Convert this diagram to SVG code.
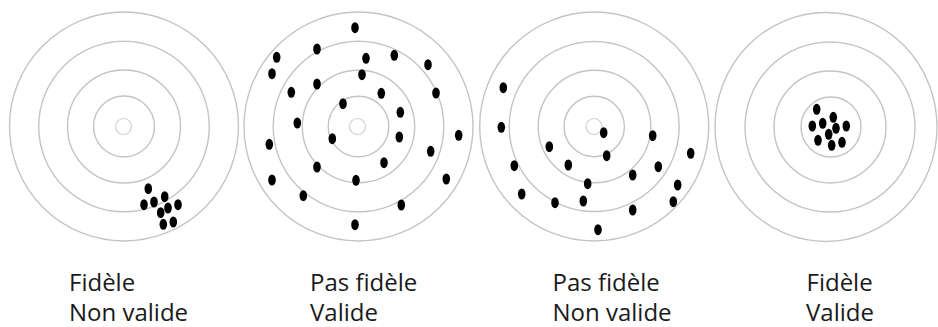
<svg xmlns="http://www.w3.org/2000/svg" width="938" height="327" viewBox="0 0 938 327">
<defs>
<style>
.ring{fill:none;stroke:#c4c4c4;stroke-width:1.4}
.bull{fill:none;stroke:#d0d0d0;stroke-width:1.2}
.dot{fill:#000}
.lbl{font-family:"Open Sans","Liberation Sans",sans-serif;font-size:24px;fill:#1a1a1a}
</style>
</defs>
<rect width="938" height="327" fill="#fff"/>
<g id="target1">
<circle class="ring" cx="124" cy="126.5" r="114.5"/>
<circle class="ring" cx="124" cy="126.5" r="85.3"/>
<circle class="ring" cx="124" cy="126.5" r="56.5"/>
<circle class="ring" cx="124" cy="126.5" r="30.5"/>
<circle class="bull" cx="123.5" cy="126.5" r="8"/>
<g class="dot">
<ellipse cx="148.3" cy="188.7" rx="3.8" ry="5.5"/>
<ellipse cx="164.7" cy="196.7" rx="3.8" ry="5.5"/>
<ellipse cx="144" cy="204.7" rx="3.8" ry="5.5"/>
<ellipse cx="154" cy="202" rx="3.8" ry="5.5"/>
<ellipse cx="178" cy="204.7" rx="3.8" ry="5.5"/>
<ellipse cx="168" cy="208" rx="3.8" ry="5.5"/>
<ellipse cx="160.7" cy="212.7" rx="3.8" ry="5.5"/>
<ellipse cx="163.3" cy="224.3" rx="3.8" ry="5.5"/>
<ellipse cx="173.3" cy="222" rx="3.8" ry="5.5"/>
</g>
<text class="lbl" x="69" y="290.5">Fidèle</text>
<text class="lbl" x="69" y="320.5">Non valide</text>
</g>
<g id="target2">
<circle class="ring" cx="358.5" cy="126.5" r="114.5"/>
<circle class="ring" cx="358.5" cy="126.5" r="85.3"/>
<circle class="ring" cx="358.5" cy="126.5" r="56.2"/>
<circle class="ring" cx="358.5" cy="126.5" r="30.3"/>
<circle class="bull" cx="357.5" cy="126.5" r="8"/>
<g class="dot">
<ellipse cx="355" cy="27.7" rx="3.8" ry="5.5"/>
<ellipse cx="317" cy="49" rx="3.8" ry="5.5"/>
<ellipse cx="276.7" cy="57.3" rx="3.8" ry="5.5"/>
<ellipse cx="366" cy="58.3" rx="3.8" ry="5.5"/>
<ellipse cx="394.3" cy="55.3" rx="3.8" ry="5.5"/>
<ellipse cx="428" cy="64.7" rx="3.8" ry="5.5"/>
<ellipse cx="272" cy="73.7" rx="3.8" ry="5.5"/>
<ellipse cx="362" cy="74.7" rx="3.8" ry="5.5"/>
<ellipse cx="317" cy="84" rx="3.8" ry="5.5"/>
<ellipse cx="291.3" cy="92.3" rx="3.8" ry="5.5"/>
<ellipse cx="381.3" cy="93.3" rx="3.8" ry="5.5"/>
<ellipse cx="436" cy="93" rx="3.8" ry="5.5"/>
<ellipse cx="343" cy="103.7" rx="3.8" ry="5.5"/>
<ellipse cx="400.3" cy="112.3" rx="3.8" ry="5.5"/>
<ellipse cx="297.3" cy="123" rx="3.8" ry="5.5"/>
<ellipse cx="458.7" cy="135.3" rx="3.8" ry="5.5"/>
<ellipse cx="332.3" cy="138.7" rx="3.8" ry="5.5"/>
<ellipse cx="399.3" cy="137" rx="3.8" ry="5.5"/>
<ellipse cx="269.3" cy="144.3" rx="3.8" ry="5.5"/>
<ellipse cx="430.7" cy="151.3" rx="3.8" ry="5.5"/>
<ellipse cx="384" cy="162.7" rx="3.8" ry="5.5"/>
<ellipse cx="317" cy="167" rx="3.8" ry="5.5"/>
<ellipse cx="272" cy="180" rx="3.8" ry="5.5"/>
<ellipse cx="356" cy="180.3" rx="3.8" ry="5.5"/>
<ellipse cx="446.3" cy="179" rx="3.8" ry="5.5"/>
<ellipse cx="303.3" cy="195.7" rx="3.8" ry="5.5"/>
<ellipse cx="401.3" cy="205" rx="3.8" ry="5.5"/>
<ellipse cx="355" cy="224.7" rx="3.8" ry="5.5"/>
</g>
<text class="lbl" x="310" y="290.5">Pas fidèle</text>
<text class="lbl" x="310" y="320.5">Valide</text>
</g>
<g id="target3">
<circle class="ring" cx="594.2" cy="126.5" r="114.5"/>
<circle class="ring" cx="594.2" cy="126.5" r="85"/>
<circle class="ring" cx="594.5" cy="126.5" r="56.3"/>
<circle class="ring" cx="594.2" cy="126.5" r="30.2"/>
<circle class="bull" cx="594" cy="126.5" r="8"/>
<g class="dot">
<ellipse cx="503.3" cy="87.7" rx="3.8" ry="5.5"/>
<ellipse cx="501.3" cy="127.3" rx="3.8" ry="5.5"/>
<ellipse cx="603.7" cy="132.7" rx="3.8" ry="5.5"/>
<ellipse cx="652.7" cy="135.7" rx="3.8" ry="5.5"/>
<ellipse cx="549.3" cy="146.7" rx="3.8" ry="5.5"/>
<ellipse cx="606.7" cy="155.7" rx="3.8" ry="5.5"/>
<ellipse cx="690.7" cy="153.3" rx="3.8" ry="5.5"/>
<ellipse cx="514.3" cy="165.7" rx="3.8" ry="5.5"/>
<ellipse cx="568.3" cy="165" rx="3.8" ry="5.5"/>
<ellipse cx="658.3" cy="166.7" rx="3.8" ry="5.5"/>
<ellipse cx="632.7" cy="175" rx="3.8" ry="5.5"/>
<ellipse cx="587.7" cy="183.7" rx="3.8" ry="5.5"/>
<ellipse cx="677.7" cy="185" rx="3.8" ry="5.5"/>
<ellipse cx="521.7" cy="194" rx="3.8" ry="5.5"/>
<ellipse cx="555" cy="202.7" rx="3.8" ry="5.5"/>
<ellipse cx="583.3" cy="201" rx="3.8" ry="5.5"/>
<ellipse cx="673.3" cy="201.7" rx="3.8" ry="5.5"/>
<ellipse cx="632.7" cy="210" rx="3.8" ry="5.5"/>
<ellipse cx="598" cy="229.7" rx="3.8" ry="5.5"/>
</g>
<text class="lbl" x="552.5" y="290.5">Pas fidèle</text>
<text class="lbl" x="552.5" y="320.5">Non valide</text>
</g>
<g id="target4">
<ellipse class="ring" cx="826" cy="127" rx="111" ry="114.5"/>
<circle class="ring" cx="830" cy="127" r="85"/>
<circle class="ring" cx="830" cy="127" r="56"/>
<circle class="ring" cx="831" cy="127" r="30"/>
<g class="dot">
<ellipse cx="816.7" cy="109.3" rx="3.8" ry="5.5"/>
<ellipse cx="833.3" cy="117.3" rx="3.8" ry="5.5"/>
<ellipse cx="822.7" cy="123.3" rx="3.8" ry="5.5"/>
<ellipse cx="812.3" cy="126" rx="3.8" ry="5.5"/>
<ellipse cx="836" cy="128.3" rx="3.8" ry="5.5"/>
<ellipse cx="846.3" cy="126" rx="3.8" ry="5.5"/>
<ellipse cx="828.7" cy="134.3" rx="3.8" ry="5.5"/>
<ellipse cx="818" cy="140.3" rx="3.8" ry="5.5"/>
<ellipse cx="842" cy="142.3" rx="3.8" ry="5.5"/>
<ellipse cx="831.7" cy="145.3" rx="3.8" ry="5.5"/>
</g>
<text class="lbl" x="806.5" y="290.5">Fidèle</text>
<text class="lbl" x="806" y="320.5">Valide</text>
</g>
</svg>
